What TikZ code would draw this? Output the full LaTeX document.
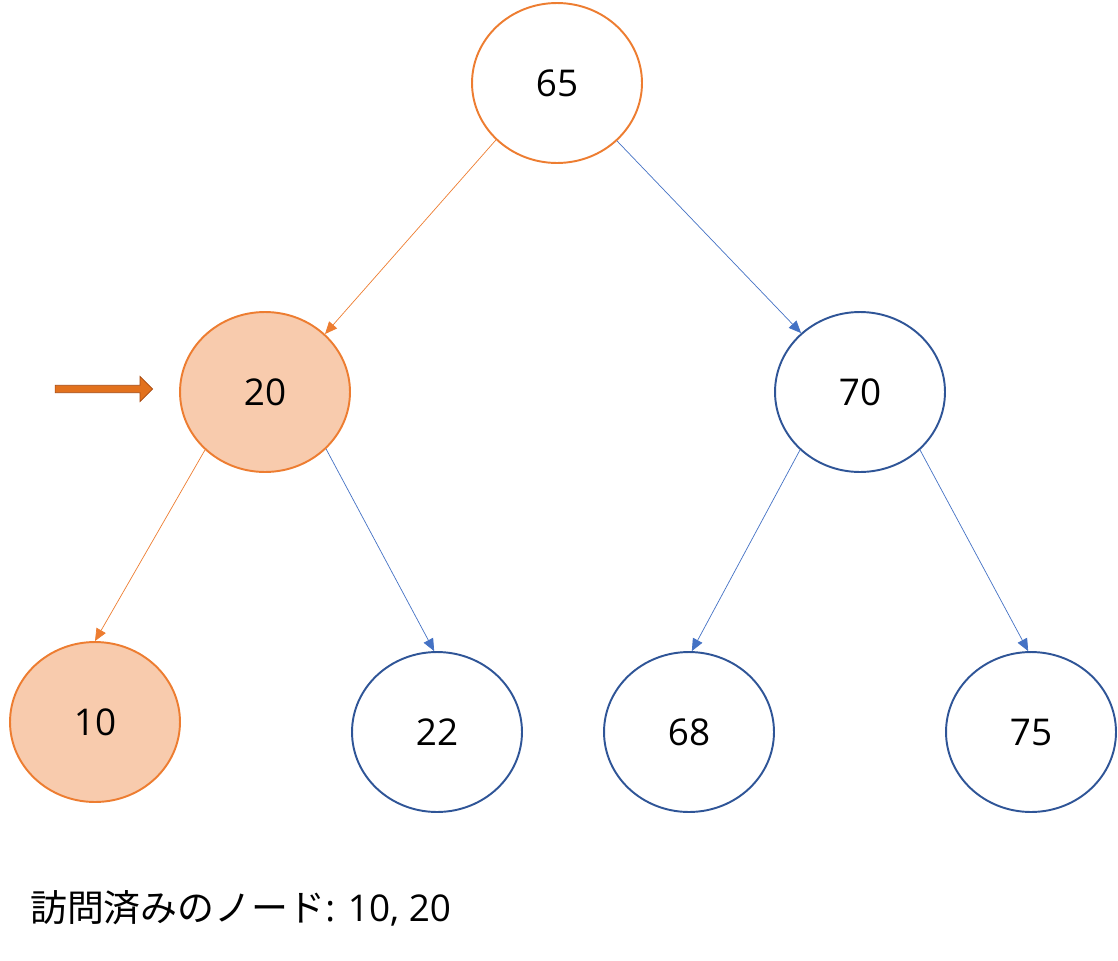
\documentclass[tikz,border=0pt]{standalone}
\usepackage{fontspec}
\setmainfont{Open Sans}
\newfontfamily\cjk{Noto Sans CJK JP}
\usetikzlibrary{shapes.geometric, shapes.arrows, arrows.meta, positioning}
\definecolor{edgeOrange}{HTML}{ED7D31}
\definecolor{fillOrange}{HTML}{F8CBAD}
\definecolor{edgeBlue}{HTML}{4472C4}
\definecolor{ringBlue}{HTML}{2F5597}
\definecolor{pointerFill}{HTML}{E2711D}
\definecolor{pointerLine}{HTML}{A5480F}

\tikzset{
    treeNode/.style={ellipse, draw=ringBlue, line width=1.1pt, minimum width=3.4cm, minimum height=3.2cm, font=\fontsize{21}{25}\selectfont},
    visitedNode/.style={treeNode, draw=edgeOrange, fill=fillOrange},
    rootNode/.style={treeNode, draw=edgeOrange},
    blueLink/.style={-{Triangle[width=6pt,length=7pt]}, edgeBlue, thin},
    orangeLink/.style={-{Triangle[width=6pt,length=7pt]}, edgeOrange, thin}
}

\begin{document}
\begin{tikzpicture}[x=0.02cm, y=-0.02cm]
        \useasboundingbox (0,0) rectangle (1118,960);

        % Tree nodes
        \node[rootNode] (n65) at (557,83) {65};
        \node[visitedNode] (n20) at (265,392) {20};
        \node[treeNode] (n70) at (860,392) {70};
        \node[visitedNode] (n10) at (95,722) {10};
        \node[treeNode] (n22) at (437,732) {22};
        \node[treeNode] (n68) at (689,732) {68};
        \node[treeNode] (n75) at (1031,732) {75};

        % Links
        \draw[orangeLink] (n65.223) -- (n20.44);
        \draw[blueLink] (n65.316) -- (n70.135);
        \draw[orangeLink] (n20.224) -- (n10.90);
        \draw[blueLink] (n20.317) -- (n22.92);
        \draw[blueLink] (n70.224) -- (n68.88);
        \draw[blueLink] (n70.316) -- (n75.92);

        % Pointer
        \node[single arrow, draw=pointerLine, fill=pointerFill, minimum width=0.5cm, single arrow head extend=0.1cm, minimum height=1.95cm, inner sep=1pt] (pointer) at (102,389) {};

        % Caption
        \node[anchor=west, font=\fontsize{21}{25}\selectfont] (visited) at (24,908) {{\cjk 訪問済みのノード}: 10, 20};
    \end{tikzpicture}
\end{document}
